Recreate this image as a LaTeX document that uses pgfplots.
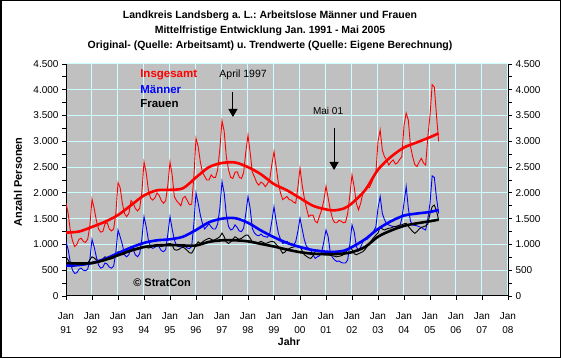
\documentclass[border=0pt]{standalone}
\usepackage{pgfplots}
\pgfplotsset{compat=1.18}
\usepackage{pgfplotstable}
\usepackage{fontspec}
\setmainfont{Liberation Sans}
\usetikzlibrary{arrows.meta}
\definecolor{plotbg}{RGB}{192,192,192}
\definecolor{gridc}{RGB}{204,255,255}

\pgfplotstableread{
t ins men wom
0 1800 1050 760
1 1600 900 700
2 1270 650 620
3 1070 500 570
4 960 440 580
5 1000 450 620
6 1100 520 650
7 1120 540 640
8 1060 500 620
9 1040 490 610
10 1100 520 640
11 1350 700 700
12 1880 1100 760
13 1700 950 740
14 1470 760 700
15 1300 600 690
16 1240 540 700
17 1250 560 720
18 1400 640 760
19 1420 620 740
20 1300 560 720
21 1260 540 720
22 1300 580 740
23 1600 850 800
24 2200 1280 860
25 2100 1150 830
26 1800 1000 800
27 1600 800 820
28 1540 760 850
29 1600 800 900
30 1850 950 950
31 1800 900 930
32 1700 800 900
33 1650 760 900
34 1700 820 920
35 2000 1100 950
36 2600 1540 960
37 2400 1350 950
38 2060 1090 930
39 1900 950 940
40 1860 925 960
41 1900 940 990
42 2000 1000 1000
43 1950 950 980
44 1850 880 960
45 1800 860 970
46 1850 900 990
47 2150 1200 1010
48 2600 1540 1020
49 2350 1300 990
50 1930 1090 900
51 1850 980 890
52 1800 956 900
53 1750 960 930
54 1900 1000 950
55 1930 960 920
56 1850 930 880
57 1770 920 840
58 1780 960 830
59 2300 1400 900
60 3060 2000 990
61 2900 1800 1050
62 2600 1570 1020
63 2400 1400 1050
64 2320 1300 1080
65 2250 1350 1100
66 2250 1400 1120
67 2350 1340 1100
68 2300 1300 1080
69 2300 1300 1100
70 2450 1400 1120
71 2850 1700 1150
72 3400 2220 1220
73 3200 2000 1150
74 2700 1570 1050
75 2450 1350 1020
76 2300 1280 1050
77 2280 1300 1100
78 2400 1380 1150
79 2410 1330 1120
80 2300 1260 1100
81 2280 1250 1120
82 2400 1320 1150
83 2800 1600 1180
84 3120 1930 1180
85 2780 1700 1120
86 2400 1310 1050
87 2310 1220 1030
88 2200 1180 1020
89 2150 1170 1040
90 2210 1200 1060
91 2180 1160 1040
92 2120 1150 1020
93 2180 1140 1030
94 2250 1200 1050
95 2550 1450 1060
96 2800 1730 1050
97 2500 1450 1000
98 2200 1220 960
99 2000 1100 900
100 1870 1020 830
101 1900 1030 850
102 1930 1060 900
103 1870 1020 920
104 1860 1000 940
105 1820 990 950
106 1800 1050 960
107 2100 1250 970
108 2480 1510 960
109 2150 1300 880
110 1900 1090 800
111 1700 960 770
112 1540 925 740
113 1570 880 730
114 1570 800 780
115 1450 730 860
116 1420 760 890
117 1550 780 880
118 1670 850 840
119 1850 1050 800
120 2130 1280 820
121 1900 1150 800
122 1670 830 790
123 1500 750 780
124 1420 700 770
125 1420 670 760
126 1470 680 770
127 1450 650 780
128 1420 640 800
129 1430 640 850
130 1600 700 890
131 1950 1000 950
132 2350 1380 900
133 2120 1250 820
134 1800 960 800
135 1670 880 820
136 1800 950 840
137 1990 1050 860
138 2050 1100 900
139 2100 1100 960
140 2100 1150 1020
141 2190 1200 1080
142 2300 1260 1130
143 2380 1340 1180
144 3000 1700 1220
145 3220 1930 1340
146 2830 1600 1300
147 2700 1480 1280
148 2640 1400 1300
149 2540 1377 1313
150 2600 1360 1320
151 2640 1350 1340
152 2560 1340 1350
153 2580 1340 1360
154 2650 1344 1377
155 2700 1500 1380
156 3300 1800 1400
157 3550 2120 1410
158 3410 1700 1350
159 2900 1450 1300
160 2700 1377 1250
161 2550 1370 1216
162 2510 1360 1250
163 2600 1344 1300
164 2670 1330 1330
165 2580 1300 1344
166 2540 1280 1360
167 3090 1500 1400
168 3500 1800 1600
169 4100 2330 1732
170 4050 2300 1765
171 3500 1900 1650
172 3000 1600 1474
}\monthly

\pgfplotstableread{
x ins men wom
1991.0 1230 590 640
1991.5 1250 600 630
1992.0 1340 640 640
1992.5 1440 720 700
1993.0 1570 830 790
1993.5 1760 940 880
1994.0 1950 1030 950
1994.5 2050 1080 980
1995.0 2060 1100 990
1995.5 2090 1150 980
1996.0 2300 1280 980
1996.5 2500 1430 1050
1997.0 2580 1500 1080
1997.5 2590 1510 1080
1998.0 2500 1420 1060
1998.5 2360 1270 1010
1999.0 2170 1140 960
1999.5 2050 1030 900
2000.0 1900 950 850
2000.5 1750 890 820
2001.0 1680 860 810
2001.3 1660 855 812
2001.7 1700 880 825
2002.0 1800 950 850
2002.5 2050 1100 950
2003.0 2450 1300 1150
2003.5 2700 1450 1270
2004.0 2880 1560 1360
2004.5 2980 1600 1410
2005.0 3080 1630 1450
2005.33 3155 1670 1480
}\trend

\begin{document}
\frenchspacing
\begin{tikzpicture}[x=1pt,y=1pt]
\useasboundingbox (0,0) rectangle (561,358);
\fill[white] (0,0) rectangle (561,358);
\draw[line width=1.5pt] (0.75,0.75) rectangle (560.25,357.25);
\node[font=\bfseries\fontsize{10.5}{12}\selectfont] at (270,342) {Landkreis Landsberg a. L.: Arbeitslose Männer und Frauen};
\node[font=\bfseries\fontsize{10.5}{12}\selectfont] at (270,327) {Mittelfristige Entwicklung Jan. 1991 - Mai 2005};
\node[font=\bfseries\fontsize{10.5}{12}\selectfont] at (270,312) {Original- (Quelle: Arbeitsamt) u. Trendwerte (Quelle: Eigene Berechnung)};
\node[font=\bfseries\fontsize{11}{13}\selectfont, rotate=90] at (18,176) {Anzahl Personen};
\node[font=\bfseries\fontsize{10.5}{12}\selectfont] at (289,16) {Jahr};

\begin{axis}[
  at={(66pt,62pt)}, anchor=south west,
  scale only axis, width=442pt, height=232pt,
  xmin=1991, xmax=2008, ymin=0, ymax=4500,
  axis x line*=bottom, axis y line*=left,
  axis line style={-, black, line width=1pt},
  axis background/.style={fill=plotbg},
  tick align=outside,
  major tick length=4pt, minor tick length=4pt,
  every tick/.style={black, line width=0.8pt},
  xtick={1991,...,2008},
  xticklabels={{Jan\\91},{Jan\\92},{Jan\\93},{Jan\\94},{Jan\\95},{Jan\\96},{Jan\\97},{Jan\\98},{Jan\\99},{Jan\\00},{Jan\\01},{Jan\\02},{Jan\\03},{Jan\\04},{Jan\\05},{Jan\\06},{Jan\\07},{Jan\\08}},
  xticklabel style={align=center, font=\fontsize{10}{14.5}\selectfont, yshift=-9pt},
  ytick={0,500,...,4500},
  minor y tick num=1,
  yticklabel style={font=\fontsize{10}{12}\selectfont, /pgf/number format/1000 sep={.}, /pgf/number format/assume math mode=true},
  grid=major,
  major grid style={gridc, line width=1pt},
  clip=true,
]
\addplot[red, line width=0.9pt] table[x expr=1991+\thisrow{t}/12, y=ins] {\monthly};
\addplot[blue, line width=0.9pt] table[x expr=1991+\thisrow{t}/12, y=men] {\monthly};
\addplot[black, line width=0.9pt] table[x expr=1991+\thisrow{t}/12, y=wom] {\monthly};
\addplot[red, line width=2.6pt, smooth] table[x=x, y=ins] {\trend};
\addplot[blue, line width=2.6pt, smooth] table[x=x, y=men] {\trend};
\addplot[black, line width=2.6pt, smooth] table[x=x, y=wom] {\trend};

\node[anchor=west, font=\bfseries\fontsize{11.5}{13}\selectfont, text=red, inner sep=0pt] at (axis cs:1993.85,4286) {Insgesamt};
\node[anchor=west, font=\bfseries\fontsize{11.5}{13}\selectfont, text=blue, inner sep=0pt] at (axis cs:1993.85,3995) {Männer};
\node[anchor=west, font=\bfseries\fontsize{11.5}{13}\selectfont, text=black, inner sep=0pt] at (axis cs:1993.85,3724) {Frauen};
\node[font=\fontsize{10.5}{12}\selectfont] at (axis cs:1997.81,4286) {April 1997};
\draw[black, line width=1pt, -{Triangle[width=9pt,length=8pt]}] (axis cs:1997.42,3957) -- (axis cs:1997.42,3472);
\node[font=\fontsize{10}{12}\selectfont] at (axis cs:2001.08,3588) {Mai 01};
\draw[black, line width=1pt, -{Triangle[width=9pt,length=8pt]}] (axis cs:2001.31,3258) -- (axis cs:2001.31,2444);
\node[anchor=west, font=\bfseries\fontsize{11}{13}\selectfont, inner sep=0pt] at (axis cs:1993.58,252) {© StratCon};
\end{axis}

\begin{axis}[
  at={(66pt,62pt)}, anchor=south west,
  scale only axis, width=442pt, height=232pt,
  xmin=1991, xmax=2008, ymin=0, ymax=4500,
  axis x line=none, axis y line*=right,
  axis line style={-, black, line width=1pt},
  tick align=outside,
  major tick length=4pt, minor tick length=4pt,
  every tick/.style={black, line width=0.8pt},
  ytick={0,500,...,4500},
  minor y tick num=1,
  yticklabel style={font=\fontsize{10}{12}\selectfont, /pgf/number format/1000 sep={.}, /pgf/number format/assume math mode=true},
]
\addplot[draw=none] coordinates {(1991,0)};
\end{axis}
\end{tikzpicture}
\end{document}
